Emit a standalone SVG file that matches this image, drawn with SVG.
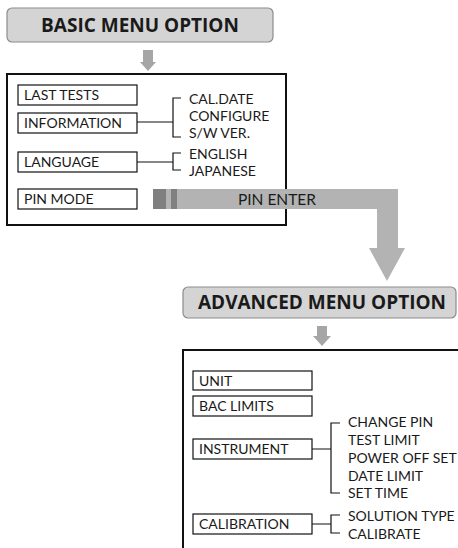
<svg xmlns="http://www.w3.org/2000/svg" width="458" height="548" viewBox="0 0 458 548">
<style>
.title{fill:#d4d4d4;stroke:#8c8c8c;stroke-width:1.2}
.tt{font-family:"Open Sans","Noto Sans",sans-serif;font-weight:bold;font-size:19px;fill:#1a1a1a;text-anchor:middle}
.panel{fill:#fff;stroke:#111;stroke-width:2}
.item{fill:#fff;stroke:#111;stroke-width:1.2}
.t{font-family:Lato,"Open Sans",sans-serif;font-size:14px;fill:#1a1a1a}
.ln{fill:none;stroke:#111;stroke-width:1.2}
.arr{fill:#a6a6a6}
</style>
<g id="basic-title">
<rect class="title" x="7" y="8" width="266" height="34" rx="5"/>
<text class="tt" x="140" y="32">BASIC MENU OPTION</text>
</g>
<g id="basic-arrow"><polygon class="arr" points="143,50 153,50 153,62 156,62 148,71 140,62 143,62"/></g>
<g id="basic-panel"><rect class="panel" x="7" y="74" width="279" height="151"/></g>
<g id="last-tests"><rect class="item" x="18" y="85" width="119" height="20"/><text class="t" x="24" y="100">LAST TESTS</text></g>
<g id="information"><rect class="item" x="18" y="113" width="119" height="20"/><text class="t" x="24" y="128">INFORMATION</text></g>
<g id="language"><rect class="item" x="18" y="152" width="119" height="20"/><text class="t" x="24" y="167">LANGUAGE</text></g>
<g id="pin-mode"><rect class="item" x="18" y="189" width="119" height="20"/><text class="t" x="24" y="204">PIN MODE</text></g>
<g id="info-sub"><text class="t" x="189" y="104">CAL.DATE</text><text class="t" x="189" y="121">CONFIGURE</text><text class="t" x="189" y="138">S/W VER.</text></g>
<g id="lang-sub"><text class="t" x="189" y="159">ENGLISH</text><text class="t" x="189" y="176">JAPANESE</text></g>
<g id="pin-enter">
<path fill="#b3b3b3" d="M153,189 H398 V248 H405 L387,281 L369,248 H377 V209 H153 Z"/>
<rect x="153" y="189" width="13" height="20" fill="#808080"/>
<rect x="171" y="189" width="6" height="20" fill="#808080"/>
<text class="t" x="277" y="205" text-anchor="middle" style="font-size:15.5px">PIN ENTER</text>
</g>
<g id="advanced-title">
<rect class="title" x="183" y="287" width="273" height="31" rx="5"/>
<text class="tt" x="322" y="309">ADVANCED MENU OPTION</text>
</g>
<g id="advanced-arrow"><polygon class="arr" points="317,326 327,326 327,336 331,336 322,346 313,336 317,336"/></g>
<g id="advanced-panel"><rect class="panel" x="183" y="350" width="290" height="210"/></g>
<g id="unit"><rect class="item" x="193" y="371" width="119" height="19"/><text class="t" x="199" y="386">UNIT</text></g>
<g id="bac-limits"><rect class="item" x="193" y="396" width="119" height="20"/><text class="t" x="199" y="411">BAC LIMITS</text></g>
<g id="instrument"><rect class="item" x="193" y="439" width="119" height="20"/><text class="t" x="199" y="454">INSTRUMENT</text></g>
<g id="calibration"><rect class="item" x="193" y="514" width="119" height="20"/><text class="t" x="199" y="529">CALIBRATION</text></g>
<g id="instr-sub"><text class="t" x="348" y="427">CHANGE PIN</text><text class="t" x="348" y="445">TEST LIMIT</text><text class="t" x="348" y="463">POWER OFF SET</text><text class="t" x="348" y="481">DATE LIMIT</text><text class="t" x="348" y="498">SET TIME</text></g>
<g id="calib-sub"><text class="t" x="348" y="521">SOLUTION TYPE</text><text class="t" x="348" y="539">CALIBRATE</text></g>
<g id="connectors">
<path class="ln" d="M137,122 H173 M181,98 H173 V137 H181"/>
<path class="ln" d="M137,162 H173 M181,153 H173 V170 H181"/>
<path class="ln" d="M312,449 H331 M340,423 H331 V493 H340"/>
<path class="ln" d="M312,524 H331 M340,515 H331 V533 H340"/>
</g>
</svg>
